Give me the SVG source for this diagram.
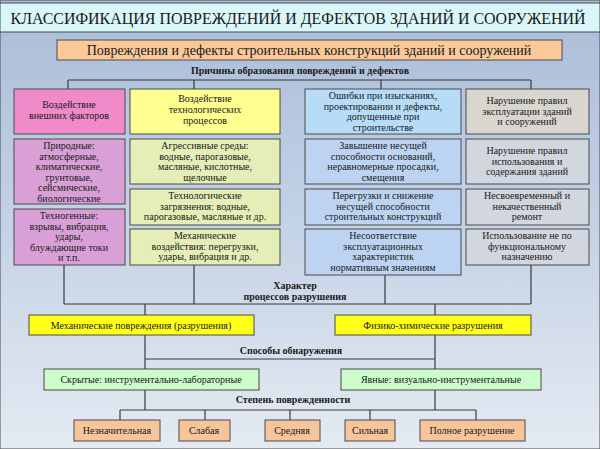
<svg xmlns="http://www.w3.org/2000/svg" width="600" height="449" viewBox="0 0 600 449" font-family="'Liberation Serif', 'DejaVu Serif', serif">
<defs>
<linearGradient id="bg" x1="0" y1="0" x2="0" y2="1"><stop offset="0" stop-color="#a9bcd8"/><stop offset="0.5" stop-color="#c4d2e6"/><stop offset="1" stop-color="#e4eaf2"/></linearGradient>
</defs>
<style>
text{font-family:'Liberation Serif','DejaVu Serif',serif;fill:#1a1a1a;text-anchor:middle}
.t{font-size:10px}
.b{font-size:10px;font-weight:bold}
rect{stroke:#4a4a4a;stroke-width:1}
.c line{stroke:#3a3a3a;stroke-width:1.2}
</style>
<rect x="0" y="0" width="600" height="449" fill="url(#bg)" stroke="none"/>
<rect x="0" y="3" width="600" height="29" fill="#d9f6f8" stroke="none"/>
<text x="298" y="24" style="font-size:17px" textLength="575" lengthAdjust="spacingAndGlyphs">КЛАССИФИКАЦИЯ ПОВРЕЖДЕНИЙ И ДЕФЕКТОВ ЗДАНИЙ И СООРУЖЕНИЙ</text>
<g class="c">
<line x1="68" y1="80" x2="531" y2="80"/>
<line x1="68" y1="80" x2="68" y2="89"/><line x1="194" y1="80" x2="194" y2="89"/>
<line x1="381" y1="80" x2="381" y2="89"/><line x1="531" y1="80" x2="531" y2="89"/>
<line x1="64" y1="265" x2="64" y2="304"/><line x1="194" y1="265" x2="194" y2="304"/>
<line x1="385" y1="275" x2="385" y2="304"/><line x1="531" y1="265" x2="531" y2="304"/>
<line x1="64" y1="304" x2="531" y2="304"/>
<line x1="145" y1="304" x2="145" y2="315"/><line x1="435" y1="304" x2="435" y2="315"/>
<line x1="145" y1="335" x2="145" y2="369"/><line x1="435" y1="335" x2="435" y2="369"/>
<line x1="145" y1="359" x2="435" y2="359"/>
<line x1="145" y1="390" x2="145" y2="410"/><line x1="435" y1="390" x2="435" y2="410"/>
<line x1="120" y1="410" x2="476" y2="410"/>
<line x1="120" y1="410" x2="120" y2="420"/><line x1="205" y1="410" x2="205" y2="420"/>
<line x1="290" y1="410" x2="290" y2="420"/><line x1="370" y1="410" x2="370" y2="420"/>
<line x1="476" y1="410" x2="476" y2="420"/>
</g>
<g id="header"><rect x="57" y="40" width="505" height="20" fill="#fbc898"/><text x="309" y="55" style="font-size:14px">Повреждения и дефекты строительных конструкций зданий и сооружений</text></g>
<text class="b" x="300" y="74">Причины образования повреждений и дефектов</text>
<g id="n1"><rect x="14" y="89" width="111" height="45" fill="#f08ac8"/><text class="t" x="69" y="108">Воздействие</text><text class="t" x="69" y="119">внешних факторов</text></g>
<g id="n2"><rect x="14" y="139" width="111" height="65" fill="#d8a0d6"/><text class="t" x="69" y="149">Природные:</text><text class="t" x="69" y="159.5">атмосферные,</text><text class="t" x="69" y="170">климатические,</text><text class="t" x="69" y="180.5">грунтовые,</text><text class="t" x="69" y="191">сейсмические,</text><text class="t" x="69" y="201.5">биологические</text></g>
<g id="n3"><rect x="14" y="209" width="111" height="56" fill="#d8a0d6"/><text class="t" x="69" y="219">Техногенные:</text><text class="t" x="69" y="229.5">взрывы, вибрация,</text><text class="t" x="69" y="240">удары,</text><text class="t" x="69" y="250.5">блуждающие токи</text><text class="t" x="69" y="261">и т.п.</text></g>
<g id="n4"><rect x="130" y="89" width="150" height="45" fill="#ffff90"/><text class="t" x="205" y="102">Воздействие</text><text class="t" x="205" y="113">технологических</text><text class="t" x="205" y="124">процессов</text></g>
<g id="n5"><rect x="130" y="139" width="150" height="45" fill="#e4eeb6"/><text class="t" x="205" y="149">Агрессивные среды:</text><text class="t" x="205" y="159.5">водные, парогазовые,</text><text class="t" x="205" y="170">масляные, кислотные,</text><text class="t" x="205" y="180.5">щелочные</text></g>
<g id="n6"><rect x="130" y="189" width="150" height="36" fill="#e4eeb6"/><text class="t" x="205" y="199">Технологические</text><text class="t" x="205" y="209.5">загрязнения: водные,</text><text class="t" x="205" y="220">парогазовые, масляные и др.</text></g>
<g id="n7"><rect x="130" y="229" width="150" height="36" fill="#e4eeb6"/><text class="t" x="205" y="239">Механические</text><text class="t" x="205" y="249.5">воздействия: перегрузки,</text><text class="t" x="205" y="260">удары, вибрация и др.</text></g>
<g id="n8"><rect x="305" y="89" width="156" height="45" fill="#b6dcf8"/><text class="t" x="383" y="99">Ошибки при изысканиях,</text><text class="t" x="383" y="109.5">проектировании и дефекты,</text><text class="t" x="383" y="120">допущенные при</text><text class="t" x="383" y="130.5">строительстве</text></g>
<g id="n9"><rect x="305" y="139" width="156" height="45" fill="#bcd4f2"/><text class="t" x="383" y="149">Завышение несущей</text><text class="t" x="383" y="159.5">способности оснований,</text><text class="t" x="383" y="170">неравномерные просадки,</text><text class="t" x="383" y="180.5">смещения</text></g>
<g id="n10"><rect x="305" y="189" width="156" height="36" fill="#bcd4f2"/><text class="t" x="383" y="199">Перегрузки и снижение</text><text class="t" x="383" y="209.5">несущей способности</text><text class="t" x="383" y="220">строительных конструкций</text></g>
<g id="n11"><rect x="305" y="229" width="156" height="46" fill="#bcd4f2"/><text class="t" x="383" y="239">Несоответствие</text><text class="t" x="383" y="249.5">эксплуатационных</text><text class="t" x="383" y="260">характеристик</text><text class="t" x="383" y="270.5">нормативным значениям</text></g>
<g id="n12"><rect x="466" y="89" width="123" height="45" fill="#d8d6cf"/><text class="t" x="527" y="104">Нарушение правил</text><text class="t" x="527" y="114.5">эксплуатации зданий</text><text class="t" x="527" y="125">и сооружений</text></g>
<g id="n13"><rect x="466" y="139" width="123" height="45" fill="#d2d6de"/><text class="t" x="527" y="154">Нарушение правил</text><text class="t" x="527" y="164.5">использования и</text><text class="t" x="527" y="175">содержания зданий</text></g>
<g id="n14"><rect x="466" y="189" width="123" height="36" fill="#d2d6de"/><text class="t" x="527" y="199">Несвоевременный и</text><text class="t" x="527" y="209.5">некачественный</text><text class="t" x="527" y="220">ремонт</text></g>
<g id="n15"><rect x="466" y="229" width="123" height="36" fill="#d2d6de"/><text class="t" x="527" y="239">Использование не по</text><text class="t" x="527" y="249.5">функциональному</text><text class="t" x="527" y="260">назначению</text></g>
<text class="b" x="295" y="289">Характер</text><text class="b" x="295" y="300">процессов разрушения</text>
<g id="m1"><rect x="29" y="315" width="225" height="20" fill="#ffff1a"/><text class="t" x="141" y="329">Механические повреждения (разрушения)</text></g>
<g id="m2"><rect x="335" y="315" width="196" height="20" fill="#ffff1a"/><text class="t" x="433" y="329">Физико-химические разрушения</text></g>
<text class="b" x="291" y="354">Способы обнаружения</text>
<g id="d1"><rect x="44" y="369" width="215" height="21" fill="#ccfccc"/><text class="t" x="151" y="383">Скрытые: инструментально-лабораторные</text></g>
<g id="d2"><rect x="341" y="369" width="200" height="21" fill="#ccfccc"/><text class="t" x="441" y="383">Явные: визуально-инструментальные</text></g>
<text class="b" x="293" y="403">Степень поврежденности</text>
<g id="s1"><rect x="74" y="420" width="86" height="21" fill="#f8c49a"/><text class="t" x="117" y="434">Незначительная</text></g>
<g id="s2"><rect x="179" y="420" width="51" height="21" fill="#f8c49a"/><text class="t" x="204" y="434">Слабая</text></g>
<g id="s3"><rect x="265" y="420" width="55" height="21" fill="#f8c49a"/><text class="t" x="292" y="434">Средняя</text></g>
<g id="s4"><rect x="345" y="420" width="50" height="21" fill="#f8c49a"/><text class="t" x="370" y="434">Сильная</text></g>
<g id="s5"><rect x="420" y="420" width="105" height="21" fill="#f8c49a"/><text class="t" x="472" y="434">Полное разрушение</text></g>
</svg>
